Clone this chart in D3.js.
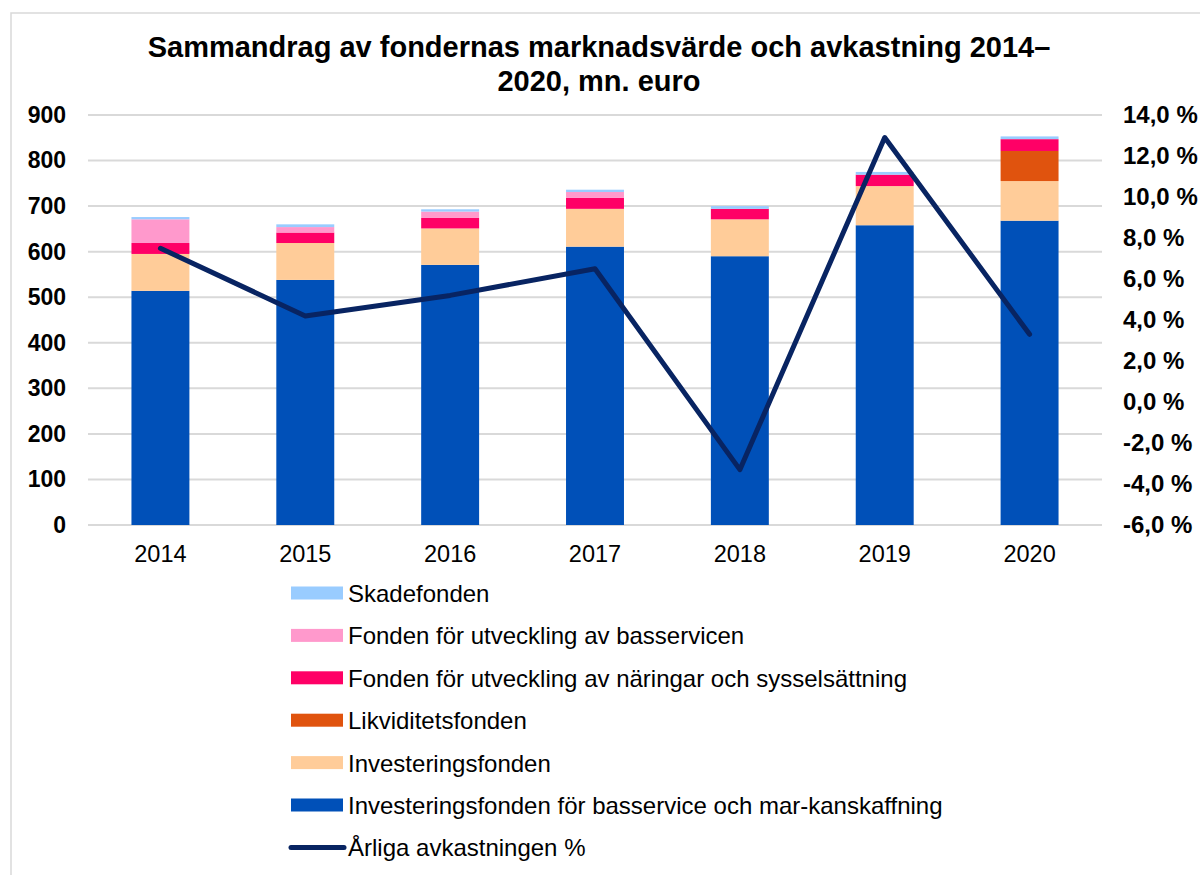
<!DOCTYPE html>
<html lang="sv">
<head>
<meta charset="utf-8">
<title>Sammandrag av fondernas marknadsvärde</title>
<script src="https://cdn.jsdelivr.net/npm/d3@7"></script>
<style>
  body { margin: 0; background: #fff; }
  svg text { font-family: "Liberation Sans", Arial, sans-serif; fill: #000; }
</style>
</head>
<body>
<div id="chart"></div>
<script>
// data (mn. euro)
var years = ["2014", "2015", "2016", "2017", "2018", "2019", "2020"];
var basservice = [514, 538, 571, 611, 590, 658, 668];
var investering = [81, 81, 80, 83, 81, 86, 87];
var likviditet = [0, 0, 0, 0, 0, 0, 66];
var naringar = [24, 23, 23, 24, 23, 25, 26];
var basservicenUtv = [52, 12, 14, 13, 0, 0, 0];
var skade = [5, 6, 5, 5, 6, 6, 6];
var avkastning = [7.5, 4.2, 5.2, 6.5, -3.3, 12.9, 3.3];

var leftTicks = [0, 100, 200, 300, 400, 500, 600, 700, 800, 900];
var rightTicks = [-6, -4, -2, 0, 2, 4, 6, 8, 10, 12, 14];

// series, bottom to top
var series = [
  { key: "bas", name: "Investeringsfonden för basservice och mar-kanskaffning", color: "#0050b8", vals: basservice },
  { key: "inv", name: "Investeringsfonden", color: "#ffcc99", vals: investering },
  { key: "lik", name: "Likviditetsfonden", color: "#e0530e", vals: likviditet },
  { key: "nar", name: "Fonden för utveckling av näringar och sysselsättning", color: "#ff0066", vals: naringar },
  { key: "utv", name: "Fonden för utveckling av basservicen", color: "#ff99cc", vals: basservicenUtv },
  { key: "ska", name: "Skadefonden", color: "#99ccff", vals: skade }
];
var lineName = "Årliga avkastningen %";

var w = 1200, h = 875;
var svg = d3.select("#chart").append("svg")
  .attr("width", w)
  .attr("height", h);

// outer frame
svg.append("rect")
  .attr("x", 11).attr("y", 13)
  .attr("width", 1300).attr("height", 1000)
  .attr("fill", "none")
  .attr("stroke", "#d9d9d9")
  .attr("stroke-width", 1.5);

// title
svg.append("text")
  .attr("x", 599).attr("y", 57)
  .attr("text-anchor", "middle")
  .style("font-size", "29px").style("font-weight", "bold")
  .text("Sammandrag av fondernas marknadsvärde och avkastning 2014–");
svg.append("text")
  .attr("x", 599).attr("y", 91)
  .attr("text-anchor", "middle")
  .style("font-size", "29px").style("font-weight", "bold")
  .text("2020, mn. euro");

var x = d3.scaleBand().domain(years).range([88, 1102]).paddingInner(0.6).paddingOuter(0.3);
var y = d3.scaleLinear().domain([0, 900]).range([525, 115]);
var y2 = d3.scaleLinear().domain([-6, 14]).range([525, 115]);

// gridlines
svg.append("g").selectAll("line")
  .data(leftTicks)
  .enter().append("line")
  .attr("x1", 88).attr("x2", 1102)
  .attr("y1", function(d) { return y(d); })
  .attr("y2", function(d) { return y(d); })
  .attr("stroke", "#d9d9d9")
  .attr("stroke-width", 2);

// left axis
var leftAxis = svg.append("g")
  .attr("transform", "translate(88,0)")
  .call(d3.axisLeft(y).tickValues(leftTicks).tickSize(0).tickPadding(22));
leftAxis.select(".domain").remove();
leftAxis.selectAll("text")
  .style("font-size", "23px").style("font-weight", "bold")
  .style("font-family", "Liberation Sans, Arial, sans-serif");

// right axis
var fmt = function(d) { return d.toFixed(1).replace(".", ",") + " %"; };
var rightAxis = svg.append("g")
  .attr("transform", "translate(1102,0)")
  .call(d3.axisRight(y2).tickValues(rightTicks).tickSize(0).tickPadding(21).tickFormat(fmt));
rightAxis.select(".domain").remove();
rightAxis.selectAll("text")
  .style("font-size", "24px").style("font-weight", "bold")
  .style("font-family", "Liberation Sans, Arial, sans-serif");

// bottom axis
var bottomAxis = svg.append("g")
  .attr("transform", "translate(0,525)")
  .call(d3.axisBottom(x).tickSize(0).tickPadding(20));
bottomAxis.select(".domain").remove();
bottomAxis.selectAll("text")
  .style("font-size", "23.5px")
  .style("font-family", "Liberation Sans, Arial, sans-serif");

// stacked bars
var rows = years.map(function(yr, i) {
  var r = { year: yr };
  series.forEach(function(s) { r[s.key] = s.vals[i]; });
  return r;
});
var stack = d3.stack().keys(series.map(function(s) { return s.key; }));
var stacked = stack(rows);

svg.append("g").selectAll("g")
  .data(stacked)
  .enter().append("g")
  .attr("fill", function(d, i) { return series[i].color; })
  .selectAll("rect")
  .data(function(d) { return d; })
  .enter().append("rect")
  .attr("x", function(d) { return x(d.data.year); })
  .attr("width", x.bandwidth())
  .attr("y", function(d) { return y(d[1]); })
  .attr("height", function(d) { return y(d[0]) - y(d[1]); });

// return line
var line = d3.line()
  .x(function(d, i) { return x(years[i]) + x.bandwidth() / 2; })
  .y(function(d) { return y2(d); });

svg.append("path")
  .datum(avkastning)
  .attr("d", line)
  .attr("fill", "none")
  .attr("stroke", "#082462")
  .attr("stroke-width", 5)
  .attr("stroke-linejoin", "round")
  .attr("stroke-linecap", "round");

// legend
var legendItems = series.slice().reverse().map(function(s) {
  return { name: s.name, color: s.color, type: "bar" };
});
legendItems.push({ name: lineName, color: "#082462", type: "line" });

var legend = svg.append("g").selectAll("g")
  .data(legendItems)
  .enter().append("g")
  .attr("transform", function(d, i) { return "translate(291," + (593 + i * 42.4) + ")"; });

legend.filter(function(d) { return d.type == "bar"; })
  .append("rect")
  .attr("x", 0).attr("y", -6.5)
  .attr("width", 52).attr("height", 13)
  .attr("fill", function(d) { return d.color; });

legend.filter(function(d) { return d.type == "line"; })
  .append("line")
  .attr("x1", 0).attr("x2", 53)
  .attr("y1", 0).attr("y2", 0)
  .attr("stroke", function(d) { return d.color; })
  .attr("stroke-width", 5)
  .attr("stroke-linecap", "round");

legend.append("text")
  .attr("x", 57).attr("y", 9)
  .style("font-size", "24px")
  .text(function(d) { return d.name; });
</script>
</body>
</html>
